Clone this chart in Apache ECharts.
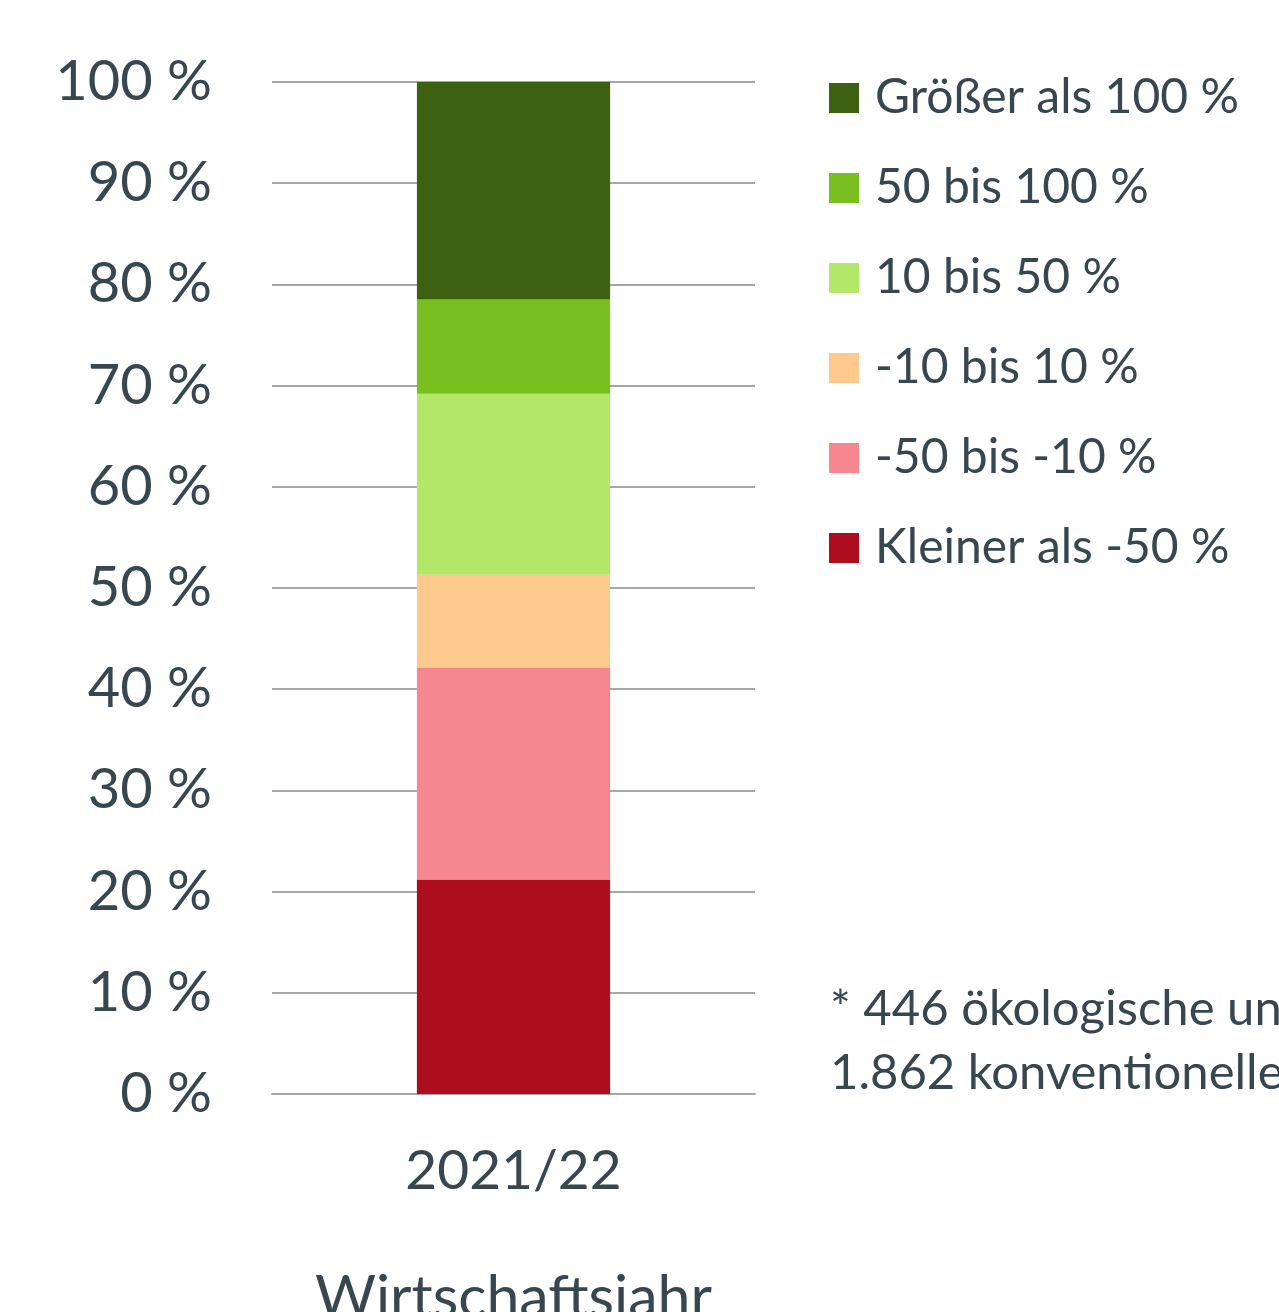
<!DOCTYPE html>
<html>
<head>
<meta charset="utf-8">
<script src="https://cdn.jsdelivr.net/npm/echarts@6/dist/echarts.min.js"></script>
<style>
  html, body { margin: 0; padding: 0; background: #fff; }
  #chart { width: 1279px; height: 1312px; }
</style>
</head>
<body>
<div id="chart"></div>
<script>
var categories = ['2021/22'];
var seriesNames = ['Kleiner als -50 %', '-50 bis -10 %', '-10 bis 10 %', '10 bis 50 %', '50 bis 100 %', 'Größer als 100 %'];
var seriesColors = ['#ae0d1d', '#f6868f', '#fec98d', '#b2e769', '#7abf20', '#3c6110'];
var kleinerAls50 = [21.2];
var minus50bis10 = [20.9];
var minus10bis10 = [9.2];
var plus10bis50 = [17.9];
var plus50bis100 = [9.3];
var groesserAls100 = [21.5];
var yTicks = [0, 10, 20, 30, 40, 50, 60, 70, 80, 90, 100];

var values = [kleinerAls50, minus50bis10, minus10bis10, plus10bis50, plus50bis100, groesserAls100];
var textColor = '#37474f';
var font = 'Lato';

var chart = echarts.init(document.getElementById('chart'));
var series = seriesNames.map(function (name, i) {
    return {
        name: name,
        type: 'bar',
        stack: 'total',
        data: values[i],
        barWidth: '40%',
        itemStyle: { color: seriesColors[i] }
    };
});

var option = {
    animation: false,
    textStyle: { fontFamily: font },
    grid: { left: 272, right: 524, top: 82, bottom: 218, outerBoundsMode: 'none', containLabel: false },
    legend: {
        orient: 'vertical',
        left: 824,
        top: 68,
        data: seriesNames.slice().reverse(),
        icon: 'rect',
        itemWidth: 30,
        itemHeight: 30,
        itemGap: 40,
        textStyle: { fontSize: 48, color: textColor, fontFamily: font, lineHeight: 50, padding: [0, 0, 0, 11] }
    },
    xAxis: {
        type: 'category',
        data: categories,
        name: 'Wirtschaftsjahr',
        nameLocation: 'middle',
        nameGap: 174,
        nameTextStyle: { fontSize: 59, color: textColor, fontFamily: font },
        axisLine: { lineStyle: { color: '#a6a6a6', width: 2 } },
        axisTick: { show: false },
        axisLabel: { fontSize: 55, color: textColor, margin: 50, fontFamily: font }
    },
    yAxis: {
        type: 'value',
        min: yTicks[0],
        max: yTicks[yTicks.length - 1],
        interval: 10,
        axisLine: { show: false },
        axisTick: { show: false },
        splitLine: { lineStyle: { color: '#a6a6a6', width: 2 } },
        axisLabel: {
            fontSize: 56,
            color: textColor,
            margin: 60,
            fontFamily: font,
            formatter: function (v) { return v + ' %'; }
        }
    },
    graphic: [
        {
            type: 'text',
            left: 830,
            top: 977,
            style: {
                text: '* 446 ökologische und\n1.862 konventionelle',
                fontSize: 49,
                lineHeight: 64,
                fill: textColor,
                fontFamily: font
            }
        }
    ],
    series: series
};
chart.setOption(option);
</script>
</body>
</html>
